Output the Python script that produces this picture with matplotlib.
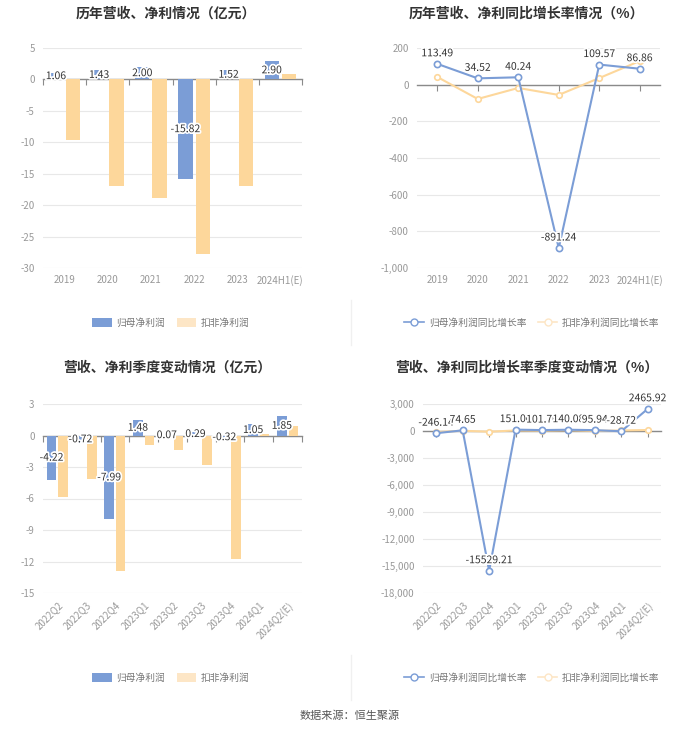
import matplotlib
matplotlib.use('Agg')
import numpy as np
import matplotlib.pyplot as plt
import matplotlib.patheffects as pe
from matplotlib.lines import Line2D
from matplotlib.patches import Patch
from matplotlib.ticker import FuncFormatter

plt.rcParams['font.family'] = ['Noto Sans CJK SC', 'DejaVu Sans']
plt.rcParams['axes.unicode_minus'] = False

# data
years = ['2019', '2020', '2021', '2022', '2023', '2024H1(E)']
year_np = [1.06, 1.43, 2.00, -15.82, 1.52, 2.90]
year_kf = [-9.7, -17.0, -18.8, -27.8, -17.0, 0.8]
year_np_g = [113.49, 34.52, 40.24, -891.24, 109.57, 86.86]
year_kf_g = [42, -78, -18, -56, 36, 129]

quarters = ['2022Q2', '2022Q3', '2022Q4', '2023Q1', '2023Q2', '2023Q3',
            '2023Q4', '2024Q1', '2024Q2(E)']
q_np = [-4.22, -0.72, -7.99, 1.48, 0.07, 0.29, -0.32, 1.05, 1.85]
q_kf = [-5.9, -4.1, -12.9, -0.95, -1.35, -2.8, -11.8, 0.1, 0.95]
q_np_g = [-246.14, 74.65, -15529.21, 151.00, 101.70, 140.08, 95.94, -28.72, 2465.92]
q_kf_g = [-120, 30, -80, 60, 40, 90, 10, 60, 110]

blue = '#7b9dd6'
orange = '#fdd79b'
orange_lg = '#fde6c6'
grid_c = '#e8e8e8'
tick_c = '#999999'
axis_c = '#8a8a8a'

fig = plt.figure(figsize=(7, 7.34), dpi=100)


def px(l, t, r, b):
    return [l / 700, 1 - b / 734, (r - l) / 700, (b - t) / 734]


def base_axis(ax, cats, ylim, ystep, rot, tick_at_bounds):
    n = len(cats)
    ax.set_xlim(-0.5, n - 0.5)
    ax.set_ylim(*ylim)
    ax.set_yticks(np.arange(ylim[0], ylim[1] + ystep / 2, ystep))
    ax.yaxis.set_major_formatter(FuncFormatter(lambda v, _: f'{v:,.0f}'))
    ax.tick_params(axis='y', length=0, pad=6, labelsize=7, labelcolor=tick_c)
    ax.grid(axis='y', color=grid_c, lw=0.8)
    ax.set_axisbelow(True)
    for s in ['top', 'right', 'left']:
        ax.spines[s].set_visible(False)
    ax.spines['bottom'].set_position(('data', 0))
    ax.spines['bottom'].set_color(axis_c)
    ax.spines['bottom'].set_linewidth(1)
    ax.spines['bottom'].set_zorder(1.5)
    if tick_at_bounds:
        ax.set_xticks(np.arange(n + 1) - 0.5)
    else:
        ax.set_xticks(np.arange(n))
    ax.tick_params(axis='x', length=4, color=axis_c, labelbottom=False)
    sec = ax.secondary_xaxis('bottom')
    sec.set_xticks(np.arange(n), labels=cats)
    sec.spines['bottom'].set_visible(False)
    sec.tick_params(length=0, pad=5, labelsize=7, labelcolor=tick_c)
    if rot:
        for t in sec.get_xticklabels():
            t.set_rotation(45)
            t.set_ha('right')
            t.set_rotation_mode('anchor')


halo = [pe.withStroke(linewidth=2.5, foreground='white')]


def bar_chart(ax, cats, a, b, ylim, ystep, rot):
    base_axis(ax, cats, ylim, ystep, rot, True)
    x = np.arange(len(cats))
    w = 0.33
    off = 0.2
    ax.bar(x - off, a, w, color=blue, zorder=2)
    ax.bar(x + off, b, w, color=orange, zorder=2)
    for i, v in enumerate(a):
        ax.text(i - off, v / 2, f'{v:.2f}', ha='center', va='center',
                fontsize=7.5, color='#333333', path_effects=halo, zorder=4)


def line_chart(ax, cats, a, b, ylim, ystep, rot):
    base_axis(ax, cats, ylim, ystep, rot, False)
    x = np.arange(len(cats))
    ax.plot(x, b, color=orange, lw=1.5, marker='o', ms=4, mfc='white',
            mec=orange, mew=1.2, zorder=3)
    ax.plot(x, a, color=blue, lw=1.5, marker='o', ms=4.5, mfc='white',
            mec=blue, mew=1.2, zorder=3)
    for i, v in enumerate(a):
        ax.annotate(f'{v:.2f}', (i, v), xytext=(0, 4), textcoords='offset points',
                    ha='center', va='bottom', fontsize=7.5, color='#333333',
                    path_effects=halo, zorder=4)


ax1 = fig.add_axes(px(43, 48, 302, 268))
ax2 = fig.add_axes(px(417, 48, 660, 268))
ax3 = fig.add_axes(px(43, 404, 302, 593))
ax4 = fig.add_axes(px(423, 404, 661, 593))

bar_chart(ax1, years, year_np, year_kf, (-30, 5), 5, False)
line_chart(ax2, years, year_np_g, year_kf_g, (-1000, 200), 200, False)
bar_chart(ax3, quarters, q_np, q_kf, (-15, 3), 3, True)
line_chart(ax4, quarters, q_np_g, q_kf_g, (-18000, 3000), 3000, True)

titles = [(166, 14, '历年营收、净利情况（亿元）'),
          (526, 14, '历年营收、净利同比增长率情况（%）'),
          (167, 368, '营收、净利季度变动情况（亿元）'),
          (527, 368, '营收、净利同比增长率季度变动情况（%）')]
for x, y, t in titles:
    fig.text(x / 700, 1 - y / 734, t, ha='center', va='center', fontsize=10,
             fontweight='bold', color='#333333')

bar_handles = [Patch(facecolor=blue, edgecolor='none', label='归母净利润'),
               Patch(facecolor=orange_lg, edgecolor='none', label='扣非净利润')]
line_handles = [Line2D([], [], color=blue, lw=1.2, marker='o', ms=5, mfc='white',
                       mec=blue, label='归母净利润同比增长率'),
                Line2D([], [], color=orange_lg, lw=1.2, marker='o', ms=5, mfc='white',
                       mec=orange_lg, label='扣非净利润同比增长率')]
for y in (323, 678):
    for cx, hs in ((171, bar_handles), (532, line_handles)):
        fig.legend(handles=hs, loc='center', bbox_to_anchor=(cx / 700, 1 - y / 734),
                   ncol=2, frameon=False, fontsize=7, labelcolor='#777777',
                   handlelength=2.0, handleheight=1.0, columnspacing=1.2,
                   handletextpad=0.5)

fig.add_artist(Line2D([351 / 700, 351 / 700], [1 - 300 / 734, 1 - 345 / 734],
                      color='#f0f0f0', lw=1))
fig.add_artist(Line2D([351 / 700, 351 / 700], [1 - 655 / 734, 1 - 700 / 734],
                      color='#f0f0f0', lw=1))

fig.text(0.5, 1 - 716 / 734, '数据来源：恒生聚源', ha='center', va='center',
         fontsize=8, color='#555555')

fig.savefig('out.png', dpi=100, facecolor='white')
